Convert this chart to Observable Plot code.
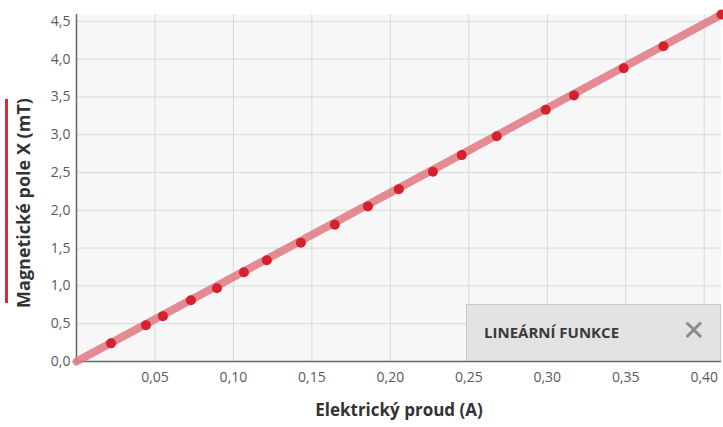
<!DOCTYPE html>
<html><head><meta charset="utf-8">
<script src="https://cdn.jsdelivr.net/npm/d3@7"></script>
<script src="https://cdn.jsdelivr.net/npm/@observablehq/plot@0.6"></script>
<style>
body{margin:0;background:#fff;font-family:"Open Sans",sans-serif;}
#wrap{position:relative;width:723px;height:427px;}
#legend{position:absolute;left:466px;top:304px;width:255px;height:57px;background:#e3e3e3;border:1px solid #c9c9c9;box-sizing:border-box;}
#legend .t{position:absolute;left:17px;top:17px;font-weight:700;font-size:15px;color:#3a3a3a;}
#legend .x{position:absolute;left:215px;top:10px;font-size:28px;color:#8a8a8a;line-height:1;}
#bar{position:absolute;left:5px;top:99px;width:3px;height:204px;background:#d32f3a;}
</style></head><body>
<div id="wrap"><div id="bar"></div><div id="legend"><span class="t">LINEÁRNÍ FUNKCE</span><span class="x">✕</span></div></div>
<script>
const current = [0.022,0.0443,0.0551,0.0729,0.0895,0.1067,0.1213,0.143,0.1646,0.1857,0.2054,0.2271,0.2455,0.2678,0.299,0.317,0.3487,0.374,0.411];
const field = [0.24,0.48,0.60,0.81,0.97,1.18,1.34,1.57,1.81,2.05,2.28,2.51,2.73,2.98,3.33,3.52,3.88,4.17,4.59];
const xTicks = [0.05,0.10,0.15,0.20,0.25,0.30,0.35,0.40];
const yTicks = [0,0.5,1,1.5,2,2.5,3,3.5,4,4.5];
const slope = 11.17;
const lineX = [0, 0.411];
const xLabel = "Elektrický proud (A)";
const yLabel = "Magnetické pole X (mT)";

const pts = current.map((x,i)=>({x, y: field[i]}));
const fit = lineX.map(x=>({x, y: slope*x}));

const chart = Plot.plot({
  width: 723, height: 427,
  marginLeft: 76, marginRight: 2, marginTop: 14, marginBottom: 66,
  style: {fontFamily: '"Open Sans",sans-serif', fontSize: "14px", color: "#555", background: "transparent"},
  x: {domain: [0, 0.411], label: null, axis: null},
  y: {domain: [0, 4.59], label: null, axis: null},
  marks: [
    Plot.frame({fill: "#f7f7f7", stroke: null}),
    Plot.gridX(xTicks, {stroke: "#d9d9d9", strokeOpacity: 1}),
    Plot.gridY(yTicks, {stroke: "#d9d9d9", strokeOpacity: 1}),
    Plot.axisX(xTicks, {tickSize: 0, tickPadding: 11, tickFormat: d => d.toFixed(2).replace(".", ","), fill: "#5a5a5a", fontSize: 14, label: null}),
    Plot.axisY(yTicks, {tickSize: 0, tickPadding: 6, tickFormat: d => d.toFixed(1).replace(".", ","), fill: "#5a5a5a", fontSize: 14, label: null}),
    Plot.ruleX([0], {stroke: "#666", strokeWidth: 1.5}),
    Plot.ruleY([0], {stroke: "#666", strokeWidth: 1.5}),
    Plot.line(fit, {x: "x", y: "y", stroke: "#e07d86", strokeWidth: 8, strokeOpacity: 0.9}),
    Plot.dot(pts, {x: "x", y: "y", r: 5, fill: "#d3222e", stroke: null}),
    Plot.text([xLabel], {frameAnchor: "bottom", lineAnchor: "middle", textAnchor: "middle", dy: 49, text: d => d, fontWeight: 700, fontSize: 17, fill: "#333"}),
    Plot.text([yLabel], {frameAnchor: "left", lineAnchor: "middle", textAnchor: "middle", dx: -52, dy: 15, rotate: -90, text: d => d, fontWeight: 700, fontSize: 18, fill: "#333"})
  ]
});
document.getElementById("wrap").prepend(chart);
chart.style.position = "absolute"; chart.style.left = "0"; chart.style.top = "0";
</script>
</body></html>
